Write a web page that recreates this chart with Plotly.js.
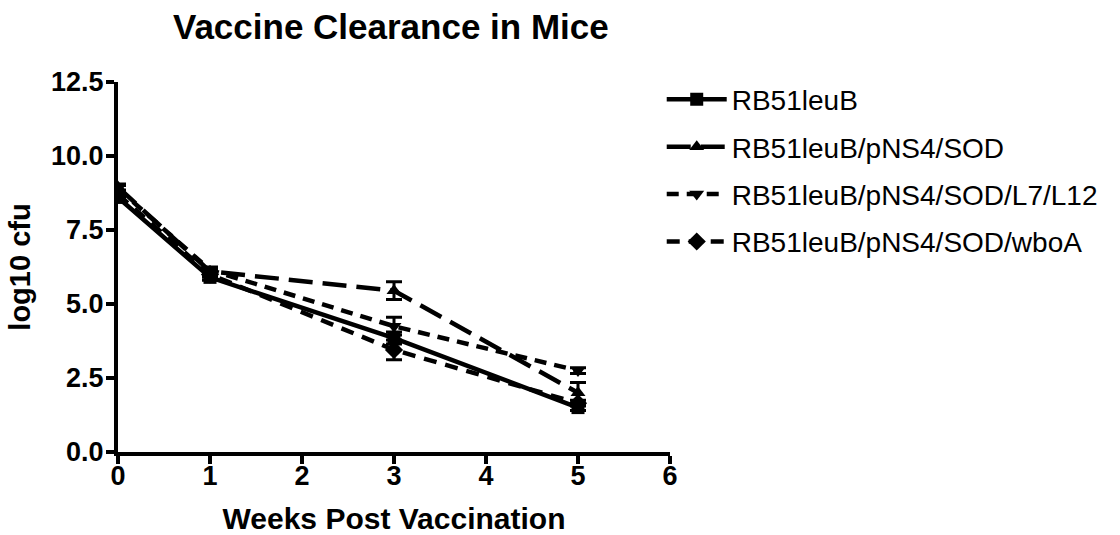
<!DOCTYPE html>
<html>
<head>
<meta charset="utf-8">
<script src="https://cdn.plot.ly/plotly-3.0.1.min.js"></script>
<style>html,body{margin:0;padding:0;background:#fff}#chart{width:1120px;height:535px}</style>
</head>
<body>
<div id="chart"></div>
<script>
const weeks = [0, 1, 3, 5];
const seriesNames = ["RB51leuB", "RB51leuB/pNS4/SOD", "RB51leuB/pNS4/SOD/L7/L12", "RB51leuB/pNS4/SOD/wboA"];
const rb51leuB = [8.6, 5.9, 3.85, 1.5];
const rb51leuB_err = [0.1, 0.1, 0.2, 0.1];
const sod = [8.95, 6.1, 5.45, 2.0];
const sod_err = [0.1, 0.1, 0.3, 0.35];
const l7l12 = [8.9, 6.15, 4.25, 2.75];
const l7l12_err = [0.1, 0.1, 0.3, 0.1];
const wboA = [8.7, 6.0, 3.45, 1.65];
const wboA_err = [0.1, 0.1, 0.33, 0.1];

const values = [rb51leuB, sod, l7l12, wboA];
const errs = [rb51leuB_err, sod_err, l7l12_err, wboA_err];
const symbols = ["square", "triangle-up", "triangle-down", "diamond"];
const dashes = ["solid", "24px,10px", "12px,8px", "13px,9px"];

const traces = values.map((v, i) => ({
  x: weeks, y: v, name: seriesNames[i], type: "scatter", mode: "lines+markers",
  legendgroup: "g" + i,
  line: {color: "#000", width: 4.5, dash: dashes[i]},
  marker: {symbol: symbols[i], size: i === 3 ? 14 : 13, color: "#000"},
  error_y: {type: "data", array: errs[i], visible: true, color: "#000", thickness: 3, width: 8}
}));

const fontFam = "Liberation Sans, Arial, sans-serif";
const layout = {
  width: 1120, height: 535,
  margin: {l: 118, r: 450, t: 82, b: 83},
  paper_bgcolor: "#fff", plot_bgcolor: "#fff",
  title: {text: "Vaccine Clearance in Mice", font: {family: fontFam, size: 35, color: "#000", weight: "bold"}, x: 0.349, xanchor: "center", y: 0.95, yanchor: "middle"},
  xaxis: {
    range: [0, 6], tickvals: [0,1,2,3,4,5,6], showgrid: false, zeroline: false,
    showline: true, linewidth: 4, linecolor: "#000", ticks: "outside", ticklen: 8, tickwidth: 4, tickcolor: "#000",
    ticklabelstandoff: -11,
    tickfont: {family: fontFam, size: 27, color: "#000", weight: "bold"},
    title: {text: "Weeks Post Vaccination", font: {family: fontFam, size: 30, color: "#000", weight: "bold"}, standoff: 20}
  },
  yaxis: {
    range: [0, 12.5], tickvals: [0, 2.5, 5, 7.5, 10, 12.5], tickformat: ".1f", showgrid: false, zeroline: false,
    showline: true, linewidth: 4, linecolor: "#000", ticks: "outside", ticklen: 8, tickwidth: 4, tickcolor: "#000",
    ticklabelstandoff: -3,
    tickfont: {family: fontFam, size: 27, color: "#000", weight: "bold"},
    title: {text: "log10 cfu", font: {family: fontFam, size: 29, color: "#000", weight: "bold"}, standoff: 13}
  },
  legend: {x: 0.985, y: 1.02, xanchor: "left", yanchor: "top", font: {family: fontFam, size: 28, color: "#000"},
    tracegroupgap: 8, itemwidth: 60, bgcolor: "rgba(0,0,0,0)"},
  showlegend: true
};
Plotly.newPlot("chart", traces, layout, {displayModeBar: false, staticPlot: true});
</script>
</body>
</html>
